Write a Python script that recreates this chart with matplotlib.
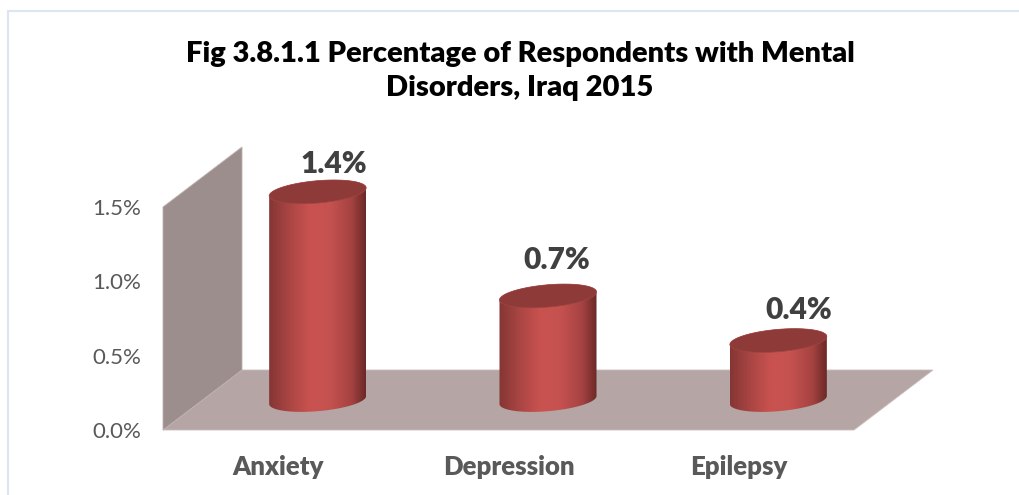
import numpy as np
import matplotlib
matplotlib.use("Agg")
import matplotlib.pyplot as plt
from matplotlib.colors import LinearSegmentedColormap
from matplotlib.lines import Line2D
from matplotlib.patches import Polygon

title = "Fig 3.8.1.1 Percentage of Respondents with Mental\nDisorders, Iraq 2015"
categories = ["Anxiety", "Depression", "Epilepsy"]
values = [1.4, 0.7, 0.4]
value_labels = ["1.4%", "0.7%", "0.4%"]
label_shift = [(16, 28), (9, 36), (20, 31)]
y_ticks = [0.0, 0.5, 1.0, 1.5]
y_tick_labels = ["0.0%", "0.5%", "1.0%", "1.5%"]

W, H = 1019, 495
plt.rcParams["font.family"] = ["Lato", "DejaVu Sans"]

fig = plt.figure(figsize=(W / 100, H / 100), dpi=100, facecolor="white")
ax = fig.add_axes([163 / W, (H - 430) / H, 691 / W, 223 / H])
ax.set_xlim(-0.5, 2.5)
ax.set_ylim(0, 1.5)

# pixel sizes turned into data units
px_x = 3 / 691
px_y = 1.5 / 223
depth_x = 79 * px_x
depth_y = 60 * px_y

# floor and back wall of the oblique box
x0, x1 = ax.get_xlim()
y1 = ax.get_ylim()[1]
ax.add_patch(Polygon([(x0, 0), (x1, 0), (x1 + depth_x, depth_y), (x0 + depth_x, depth_y)],
                     fc="#b5a5a4", ec="#c9bdbc", lw=0.6, clip_on=False, zorder=1))
ax.add_patch(Polygon([(x0, 0), (x0, y1), (x0 + depth_x, y1 + depth_y), (x0 + depth_x, depth_y)],
                     fc="#9c8e8c", ec="#bdb1b0", lw=0.6, clip_on=False, zorder=1))

# shading across a cylinder, dark edges and a light middle
shade = LinearSegmentedColormap.from_list("cyl", [
    (0.0, "#843634"), (0.2, "#a84543"), (0.42, "#c9524f"), (0.62, "#c65250"),
    (0.85, "#a54342"), (1.0, "#6b2927")])
rx = 48.5 * px_x
ry = 11.2 * px_y
tilt = 4.0 * px_y


def ring(cx, cy, t):
    return np.column_stack([cx + rx * np.cos(t), cy + tilt * np.cos(t) + ry * np.sin(t)])


for i, v in enumerate(values):
    cx = i + depth_x / 2
    cy = depth_y / 2
    outline = np.vstack([ring(cx, cy, np.linspace(np.pi, 2 * np.pi, 80)),
                         ring(cx, cy + v, np.linspace(0, np.pi, 80))])
    body = Polygon(outline, fc="none", ec="none", clip_on=False, zorder=2)
    ax.add_patch(body)
    img = ax.imshow(np.linspace(0, 1, 256)[None, :], cmap=shade, aspect="auto", origin="lower",
                    extent=(cx - rx, cx + rx, cy - 2 * ry, cy + v + 2 * ry), zorder=2)
    img.set_clip_box(fig.bbox)
    img.set_clip_path(body)
    ax.add_patch(Polygon(ring(cx, cy + v, np.linspace(0, 2 * np.pi, 160)),
                         fc="#8e3a38", ec="#a04644", lw=0.5, clip_on=False, zorder=3))
    dx, dy = label_shift[i]
    ax.annotate(value_labels[i], (cx, cy + v), xytext=(dx * 0.72, dy * 0.72),
                textcoords="offset points", ha="center", va="center", fontsize=21.5,
                fontweight="heavy", color="#404040", annotation_clip=False, zorder=4)

ax.set_xlim(-0.5, 2.5)
ax.set_ylim(0, 1.5)
ax.set_xticks(range(len(categories)), categories, fontsize=18.5, fontweight="heavy", color="#595959")
ax.set_yticks(y_ticks, y_tick_labels, fontsize=16, color="#595959")
ax.tick_params(axis="both", length=0)
ax.tick_params(axis="x", pad=18)
ax.tick_params(axis="y", pad=16)
for s in ax.spines.values():
    s.set_visible(False)
ax.patch.set_visible(False)

fig.text(520 / W, 1 - 71 / H, title, ha="center", va="center", fontsize=21, fontweight="heavy",
         color="black", linespacing=1.38)

# frame lines on the top and left only
fig.add_artist(Line2D([8 / W, 8 / W], [0, 1 - 10.5 / H], color="#dce6f2", lw=1.5))
fig.add_artist(Line2D([8 / W, 1], [1 - 10.5 / H, 1 - 10.5 / H], color="#dce6f2", lw=1.5))

fig.savefig("out.png", dpi=100)
